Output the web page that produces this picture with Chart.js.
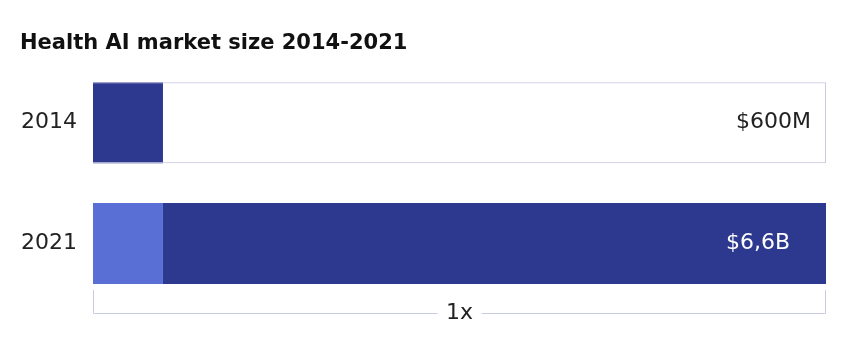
<!DOCTYPE html>
<html>
<head>
<meta charset="utf-8">
<script src="https://cdn.jsdelivr.net/npm/chart.js@4.4.0/dist/chart.umd.min.js"></script>
<style>
  html, body { margin: 0; padding: 0; background: #fff; }
  #wrap { width: 848px; height: 350px; }
</style>
</head>
<body>
<div id="wrap"><canvas id="market"></canvas></div>
<script>
// data (billion USD)
var years = ["2014", "2021"];
var baseSize = [0.63, 0.63];     // 2014 market size, shown again inside the 2021 bar
var growth = [null, 5.97];       // added on top by 2021
var totalSize = [0.63, 6.6];
var valueLabels = ["$600M", "$6,6B"];
var bracketLabel = "1x";
var titleText = "Health AI market size 2014-2021";

var DARK = "#2c398f";
var LIGHT = "#5a6fd6";
var LINE = "#c9cbe3";
var FONT = "'DejaVu Sans', 'Open Sans', sans-serif";

// floating bars so every piece sits on the same row
function span(start, vals) {
  return vals.map(function (v, i) {
    if (v === null) return null;
    var s = start[i] === undefined ? 0 : start[i];
    return [s, s + v];
  });
}

// value text + the "1x" bracket under the last bar
var extras = {
  id: "extras",
  afterDatasetsDraw: function (chart) {
    var ctx = chart.ctx;
    var x = chart.scales.x;
    var meta = chart.getDatasetMeta(0);
    var right = x.getPixelForValue(totalSize[totalSize.length - 1]);
    ctx.save();
    ctx.font = "22px " + FONT;
    ctx.textBaseline = "middle";
    ctx.textAlign = "right";
    valueLabels.forEach(function (txt, i) {
      var bar = meta.data[i];
      ctx.fillStyle = i === 0 ? "#222" : "#fff";
      ctx.fillText(txt, right - (i === 0 ? 15 : 36), bar.y);
    });

    // bracket
    var last = meta.data[meta.data.length - 1];
    var bottom = last.y + last.height / 2;
    var x0 = x.getPixelForValue(0) + 0.5;
    var x1 = right - 0.5;
    var top = bottom + 6, lineY = Math.round(bottom + 29) + 0.5;
    var mid = (x0 + x1) / 2;
    ctx.strokeStyle = LINE;
    ctx.lineWidth = 1;
    ctx.beginPath();
    ctx.moveTo(x0, top); ctx.lineTo(x0, lineY); ctx.lineTo(mid - 22, lineY);
    ctx.moveTo(mid + 22, lineY); ctx.lineTo(x1, lineY); ctx.lineTo(x1, top);
    ctx.stroke();
    ctx.fillStyle = "#222";
    ctx.textAlign = "center";
    ctx.fillText(bracketLabel, mid, lineY);
    ctx.restore();
  }
};

new Chart("market", {
  type: "bar",
  data: {
    labels: years,
    datasets: [{
      label: "2014 size",
      data: span([], baseSize),
      backgroundColor: [DARK, LIGHT],
      grouped: false,
      order: 1
    }, {
      label: "growth",
      data: span(baseSize, growth),
      backgroundColor: DARK,
      grouped: false,
      order: 1
    }, {
      label: "frame",
      data: [[0, totalSize[1]], null],
      backgroundColor: "rgba(0,0,0,0)",
      borderColor: LINE,
      borderWidth: 1,
      borderSkipped: "start",
      grouped: false,
      order: 0
    }]
  },
  options: {
    indexAxis: "y",
    responsive: true,
    maintainAspectRatio: false,
    animation: false,
    barPercentage: 1,
    categoryPercentage: 0.67,
    layout: { padding: { top: 30, left: 20, right: 22, bottom: 46 } },
    plugins: {
      legend: { display: false },
      tooltip: { enabled: false },
      title: {
        display: true,
        text: titleText,
        align: "start",
        color: "#111",
        font: { family: FONT, size: 21, weight: "bold", lineHeight: 1.25 },
        padding: { top: 0, bottom: 6 }
      }
    },
    scales: {
      x: {
        display: false,
        min: 0,
        max: totalSize[1]
      },
      y: {
        grid: { display: false, drawTicks: false },
        border: { display: false },
        ticks: {
          color: "#222",
          padding: 16,
          font: { family: FONT, size: 22 }
        },
        afterFit: function (scale) { scale.width = 73; }
      }
    }
  },
  plugins: [extras]
});
</script>
</body>
</html>
